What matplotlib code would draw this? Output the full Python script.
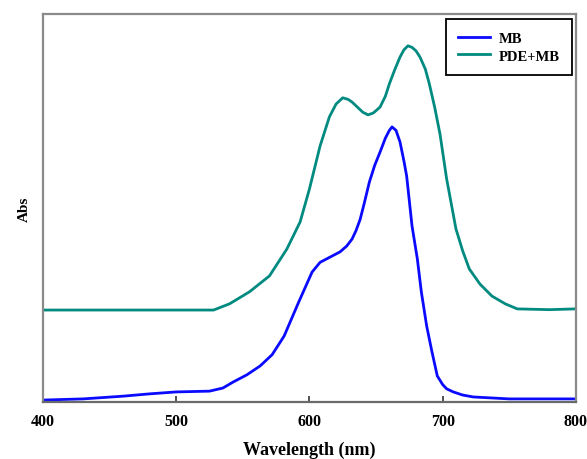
import numpy as np
import matplotlib
matplotlib.use("Agg")
import matplotlib.pyplot as plt

# === Data (arbitrary Abs units) ===
mb_wl = [400, 430, 460, 480, 500, 525, 535, 543, 553, 563, 572, 581, 592, 602, 608,
         613, 618, 623, 628, 632, 635, 638, 641, 645, 649, 653, 657, 660, 662, 665,
         668, 671, 673, 677, 681, 684, 688, 692, 696, 700, 703, 708, 715, 723, 750,
         800]
mb_abs = [0.005, 0.008, 0.015, 0.021, 0.026, 0.028, 0.036, 0.052, 0.070, 0.093, 0.122,
          0.170, 0.258, 0.335, 0.360, 0.369, 0.378, 0.387, 0.402, 0.420, 0.442, 0.470,
          0.510, 0.567, 0.610, 0.644, 0.680, 0.700, 0.709, 0.700, 0.670, 0.620, 0.582,
          0.454, 0.369, 0.284, 0.196, 0.129, 0.067, 0.045, 0.034, 0.026, 0.018, 0.013,
          0.008, 0.008]

pde_wl = [400, 450, 500, 528, 540, 555, 570, 583, 593, 600, 608, 615, 620, 625, 629,
          632, 636, 640, 644, 648, 653, 657, 660, 664, 668, 671, 674, 677, 680, 683,
          687, 690, 694, 698, 703, 710, 715, 720, 728, 737, 747, 756, 780, 800]
pde_abs = [0.237, 0.237, 0.237, 0.237, 0.253, 0.284, 0.325, 0.394, 0.464, 0.549, 0.660,
           0.735, 0.768, 0.784, 0.780, 0.773, 0.760, 0.747, 0.740, 0.745, 0.760, 0.788,
           0.820, 0.856, 0.889, 0.908, 0.918, 0.914, 0.905, 0.889, 0.858, 0.820, 0.760,
           0.691, 0.575, 0.446, 0.390, 0.343, 0.304, 0.273, 0.253, 0.240, 0.238, 0.240]

xticks = [400, 500, 600, 700, 800]

# === Plot ===
fig = plt.figure(figsize=(5.87, 4.60), dpi=100)
ax = fig.add_axes([0.0733, 0.1239, 0.9077, 0.8435])

ax.plot(mb_wl, mb_abs, color="#0a0aff", linewidth=2.0, label="MB")
ax.plot(pde_wl, pde_abs, color="#008a80", linewidth=2.0, label="PDE+MB")

ax.set_xlim(400, 800)
ax.set_ylim(0, 1.0)
ax.set_xticks(xticks)
ax.set_yticks([])
ax.tick_params(axis="x", direction="in", length=4, width=1.2, color="#333333",
               pad=8)
for lab in ax.get_xticklabels():
    lab.set_fontfamily("Liberation Serif")
    lab.set_fontweight("bold")
    lab.set_fontsize(11.5)

for side in ["left", "right", "top", "bottom"]:
    ax.spines[side].set_color("#8a8a8a")
    ax.spines[side].set_linewidth(1.6)
ax.spines["bottom"].set_color("#6a6a6a")

ax.set_xlabel("Wavelength (nm)", family="Liberation Serif", fontweight="bold",
              fontsize=13, labelpad=8)
ax.set_ylabel("Abs", family="Liberation Serif", fontweight="bold", fontsize=11,
              labelpad=9)

leg = ax.legend(loc="upper left", bbox_to_anchor=(0.756, 0.987), borderaxespad=0,
                fancybox=False, framealpha=1, edgecolor="black",
                handlelength=2.2, handletextpad=0.6, labelspacing=0.32,
                borderpad=0.85,
                prop={"family": "Liberation Serif", "weight": "bold", "size": 10.5})
leg.get_frame().set_linewidth(1.3)

fig.savefig("out.png", dpi=100)
